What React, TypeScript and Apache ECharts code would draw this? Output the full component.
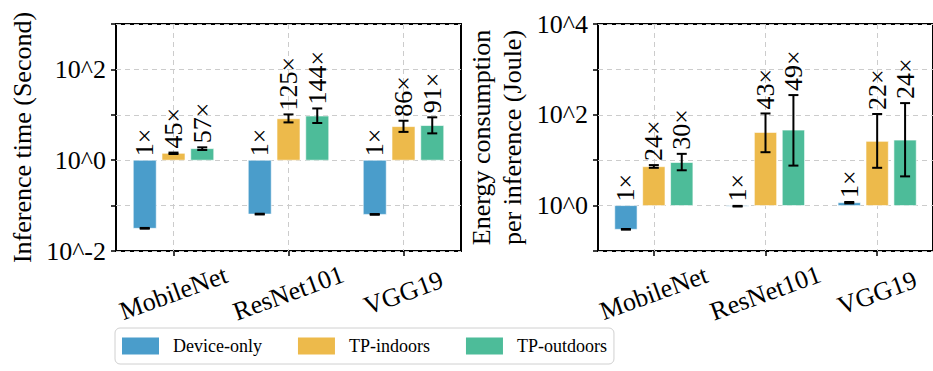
import React, { useEffect, useRef } from "react";
import * as echarts from "echarts";

const categories = ["MobileNet", "ResNet101", "VGG19"];
const seriesNames = ["Device-only", "TP-indoors", "TP-outdoors"];
const colors = ["#4a9dcb", "#edba4b", "#4dbc99"];

// Inference time (s): [value, low, high, ratio]
const timeDevice = [0.0316, 0.065, 0.064];
const timeDeviceLow = [0.031, 0.0638, 0.0628];
const timeDeviceHigh = [0.0322, 0.0662, 0.0652];
const timeIndoors = [1.42, 8.2, 5.5];
const timeIndoorsLow = [1.37, 6.8, 4.2];
const timeIndoorsHigh = [1.47, 10.2, 7.4];
const timeOutdoors = [1.8, 9.4, 5.8];
const timeOutdoorsLow = [1.68, 6.6, 3.9];
const timeOutdoorsHigh = [1.92, 13.8, 8.8];
const timeRatioDevice = [1, 1, 1];
const timeRatioIndoors = [45, 125, 86];
const timeRatioOutdoors = [57, 144, 91];

// Energy (J)
const energyDevice = [0.3, 0.97, 1.16];
const energyDeviceLow = [0.295, 0.955, 1.12];
const energyDeviceHigh = [0.305, 0.985, 1.2];
const energyIndoors = [7.2, 41, 26];
const energyIndoorsLow = [6.8, 15, 6.8];
const energyIndoorsHigh = [7.8, 107, 104];
const energyOutdoors = [8.9, 46, 27.7];
const energyOutdoorsLow = [6.0, 7.6, 4.4];
const energyOutdoorsHigh = [13.8, 272, 181];
const energyRatioDevice = [1, 1, 1];
const energyRatioIndoors = [24, 43, 22];
const energyRatioOutdoors = [30, 49, 24];

const FONT = "'Liberation Serif', 'Times New Roman', 'DejaVu Serif', serif";

function rows(v: number[], lo: number[], hi: number[], r: number[]) {
  return v.map((x, i) => [i, x, lo[i], hi[i], r[i]]);
}

function makeRender(k: number, color: string) {
  return (params: any, api: any) => {
    const cat = api.value(0);
    const v = api.value(1);
    const lo = api.value(2);
    const hi = api.value(3);
    const ratio = api.value(4);
    const band = api.size([1, 0])[0];
    const base = api.coord([cat, 1]);
    const top = api.coord([cat, v]);
    const cx = base[0] + (k - 1) * 0.25 * band;
    const w = 0.2 * band;
    const y0 = Math.min(base[1], top[1]);
    const h = Math.abs(base[1] - top[1]);
    const pLo = api.coord([cat, lo]);
    const pHi = api.coord([cat, hi]);
    const pa = api.coord([cat, Math.max(hi, 1)]);
    const cap = 5;
    const ls = { stroke: "#000", lineWidth: 2 };
    return {
      type: "group",
      children: [
        {
          type: "rect",
          shape: { x: cx - w / 2, y: y0, width: w, height: h },
          style: { fill: color, stroke: "rgba(255,255,255,0.6)", lineWidth: 1 },
        },
        { type: "line", shape: { x1: cx, y1: pLo[1], x2: cx, y2: pHi[1] }, style: ls },
        { type: "line", shape: { x1: cx - cap, y1: pLo[1], x2: cx + cap, y2: pLo[1] }, style: ls },
        { type: "line", shape: { x1: cx - cap, y1: pHi[1], x2: cx + cap, y2: pHi[1] }, style: ls },
        {
          type: "text",
          x: cx,
          y: pa[1] - 4,
          rotation: Math.PI / 2,
          style: {
            text: ratio + "×",
            fontSize: 26,
            fontFamily: FONT,
            fill: "#000",
            align: "left",
            verticalAlign: "middle",
          },
        },
      ],
    };
  };
}

function yAxisBase(gridIndex: number, min: number, max: number, name: string, nameGap: number) {
  return {
    type: "log",
    gridIndex,
    logBase: 10,
    min,
    max,
    interval: 1,
    name,
    nameLocation: "middle",
    nameRotate: 90,
    nameGap,
    nameTextStyle: { fontSize: 26, fontFamily: FONT, color: "#000", lineHeight: 31 },
    axisLine: { show: false },
    axisTick: { show: true, length: 5, lineStyle: { color: "#000", width: 1.5 } },
    minorTick: { show: false },
    axisLabel: {
      fontSize: 26,
      fontFamily: FONT,
      color: "#000",
      margin: 10,
      formatter: (val: number) => {
        const e = Math.round(Math.log10(val));
        return e % 2 === 0 ? "10^" + e : "";
      },
    },
    splitLine: { show: true, lineStyle: { color: "#cccccc", type: [5, 4], width: 1 } },
  };
}

function xAxisBase(gridIndex: number) {
  return {
    type: "category",
    gridIndex,
    data: categories,
    boundaryGap: true,
    axisLine: { show: false },
    axisTick: { show: true, alignWithLabel: true, length: 5, lineStyle: { color: "#000", width: 1.5 } },
    axisLabel: {
      fontSize: 26,
      fontFamily: FONT,
      color: "#000",
      rotate: 20,
      align: "center",
      verticalAlign: "middle",
      margin: 42,
    },
    splitLine: {
      show: true,
      alignWithLabel: true,
      lineStyle: { color: "#cccccc", type: [5, 4], width: 1 },
    },
  };
}

export default function App() {
  const ref = useRef<HTMLDivElement>(null);
  useEffect(() => {
    if (!ref.current) return;
    const chart = echarts.init(ref.current, null, { renderer: "svg" });
    const leftData = [
      rows(timeDevice, timeDeviceLow, timeDeviceHigh, timeRatioDevice),
      rows(timeIndoors, timeIndoorsLow, timeIndoorsHigh, timeRatioIndoors),
      rows(timeOutdoors, timeOutdoorsLow, timeOutdoorsHigh, timeRatioOutdoors),
    ];
    const rightData = [
      rows(energyDevice, energyDeviceLow, energyDeviceHigh, energyRatioDevice),
      rows(energyIndoors, energyIndoorsLow, energyIndoorsHigh, energyRatioIndoors),
      rows(energyOutdoors, energyOutdoorsLow, energyOutdoorsHigh, energyRatioOutdoors),
    ];
    const series: any[] = [];
    [leftData, rightData].forEach((set, gi) => {
      set.forEach((d, k) => {
        series.push({
          type: "custom",
          name: seriesNames[k],
          xAxisIndex: gi,
          yAxisIndex: gi,
          data: d,
          encode: { x: 0, y: 1 },
          itemStyle: { color: colors[k] },
          renderItem: makeRender(k, colors[k]),
          silent: true,
          clip: false,
          z: 5,
        });
      });
    });
    chart.setOption({
      animation: false,
      backgroundColor: "#ffffff",
      textStyle: { fontFamily: FONT },
      grid: [
        { left: 116, top: 24, width: 345, height: 227, show: true, borderColor: "#000", borderWidth: 2, backgroundColor: "transparent" },
        { left: 598, top: 24, width: 345, height: 227, show: true, borderColor: "#000", borderWidth: 2, backgroundColor: "transparent" },
      ],
      xAxis: [xAxisBase(0), xAxisBase(1)],
      yAxis: [
        yAxisBase(0, 0.01, 1000, "Inference time (Second)", 78),
        yAxisBase(1, 0.1, 10000, "Energy consumption\nper inference (Joule)", 70),
      ],
      legend: {
        data: seriesNames.map((n, i) => ({ name: n, itemStyle: { color: colors[i] } })),
        icon: "rect",
        left: 115,
        top: 328,
        itemWidth: 37,
        itemHeight: 17,
        itemGap: 36,
        padding: [9, 7, 9, 7],
        borderColor: "#d0d0d0",
        borderWidth: 1,
        borderRadius: 5,
        selectedMode: false,
        textStyle: { fontSize: 18, fontFamily: FONT, color: "#000", padding: [0, 0, 0, 9] },
      },
      series,
    });
    return () => chart.dispose();
  }, []);
  return (
    <div
      ref={ref}
      style={{ position: "fixed", left: 0, top: 0, width: 933, height: 371 }}
    />
  );
}
